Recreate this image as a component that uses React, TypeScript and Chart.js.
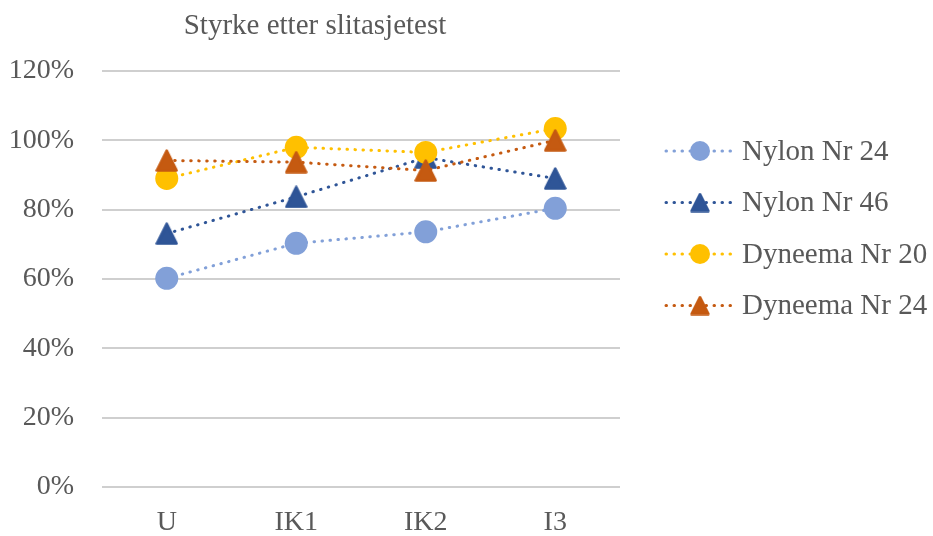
import React, { useEffect, useRef } from "react";
import { Chart, registerables } from "chart.js";

Chart.register(...registerables);

const title = "Styrke etter slitasjetest";
const categories = ["U", "IK1", "IK2", "I3"];
const seriesNames = ["Nylon Nr 24", "Nylon Nr 46", "Dyneema Nr 20", "Dyneema Nr 24"];
const nylon24 = [0.602, 0.703, 0.736, 0.804];
const nylon46 = [0.731, 0.837, 0.95, 0.89];
const dyneema20 = [0.89, 0.98, 0.965, 1.034];
const dyneema24 = [0.942, 0.937, 0.913, 1.0];
const seriesColors = ["#82A0D8", "#2F5597", "#FFC000", "#C55A11"];
const seriesMarkers = ["circle", "triangle", "circle", "triangle"];
const yTicks = [0, 0.2, 0.4, 0.6, 0.8, 1.0, 1.2];

const FONT = "'Liberation Serif', 'Times New Roman', serif";
const TEXT = "#595959";

function makeTriangle(color: string, size: number) {
  const c = document.createElement("canvas");
  c.width = size;
  c.height = size;
  const g = c.getContext("2d")!;
  g.fillStyle = color;
  g.strokeStyle = color;
  g.lineJoin = "round";
  g.lineWidth = 2.5;
  const m = 1.5;
  g.beginPath();
  g.moveTo(size / 2, m);
  g.lineTo(size - m, size - m);
  g.lineTo(m, size - m);
  g.closePath();
  g.fill();
  g.stroke();
  return c;
}

const overlayPlugin = {
  id: "overlay",
  afterDraw(chart: any) {
    const ctx = chart.ctx as CanvasRenderingContext2D;
    ctx.save();
    ctx.fillStyle = TEXT;
    ctx.font = `29px ${FONT}`;
    ctx.textAlign = "center";
    ctx.textBaseline = "middle";
    ctx.fillText(title, 315, 26);
    ctx.textAlign = "left";
    seriesNames.forEach((name, i) => {
      const y = 151 + i * 51.5;
      ctx.save();
      ctx.strokeStyle = seriesColors[i];
      ctx.lineWidth = 3;
      ctx.lineCap = "round";
      ctx.setLineDash([0.5, 7.5]);
      ctx.beginPath();
      ctx.moveTo(666, y);
      ctx.lineTo(734, y);
      ctx.stroke();
      ctx.restore();
      ctx.save();
      ctx.fillStyle = seriesColors[i];
      if (seriesMarkers[i] === "circle") {
        ctx.beginPath();
        ctx.arc(700, y, 10, 0, Math.PI * 2);
        ctx.fill();
      } else {
        const t = makeTriangle(seriesColors[i], 20);
        ctx.drawImage(t, 690, y - 10);
      }
      ctx.restore();
      ctx.fillStyle = TEXT;
      ctx.fillText(name, 742, y + 1);
    });
    ctx.restore();
  },
};

export default function App() {
  const ref = useRef<HTMLCanvasElement | null>(null);
  useEffect(() => {
    document.body.style.margin = "0";
    const seriesData = [nylon24, nylon46, dyneema20, dyneema24];
    const datasets = seriesNames.map((name, i) => ({
      label: name,
      data: seriesData[i],
      borderColor: seriesColors[i],
      backgroundColor: seriesColors[i],
      borderWidth: 3,
      borderDash: [0.5, 7.5],
      borderCapStyle: "round" as const,
      pointStyle: (seriesMarkers[i] === "circle" ? "circle" : makeTriangle(seriesColors[i], 23)) as any,
      pointRadius: 11.5,
      pointBorderWidth: 0,
      pointBorderColor: seriesColors[i],
      pointBackgroundColor: seriesColors[i],
      tension: 0,
      order: 4 - i,
    }));
    const chart = new Chart(ref.current!, {
      type: "line",
      data: { labels: categories, datasets },
      options: {
        responsive: false,
        animation: false,
        layout: { padding: { top: 71, right: 313, left: 0, bottom: 0 } },
        plugins: { legend: { display: false }, title: { display: false }, tooltip: { enabled: false } },
        scales: {
          x: {
            offset: true,
            grid: { display: false, drawTicks: false },
            border: { display: false },
            ticks: { color: TEXT, font: { family: FONT, size: 28 }, padding: 19 },
            afterFit: (s: any) => {
              s.height = 49;
            },
          },
          y: {
            min: 0,
            max: 1.2,
            afterBuildTicks: (s: any) => {
              s.ticks = yTicks.map((v) => ({ value: v }));
            },
            grid: { color: "#CFCFCF", lineWidth: 2, drawTicks: false },
            border: { display: false },
            ticks: {
              color: TEXT,
              font: { family: FONT, size: 28 },
              padding: 28,
              callback: (v: any) => `${Math.round(Number(v) * 100)}%`,
            },
            afterFit: (s: any) => {
              s.width = 102;
            },
          },
        },
      },
      plugins: [overlayPlugin],
    });
    return () => chart.destroy();
  }, []);
  return (
    <div style={{ width: 933, height: 536, background: "#fff" }}>
      <canvas ref={ref} width={933} height={536} style={{ display: "block" }} />
    </div>
  );
}
